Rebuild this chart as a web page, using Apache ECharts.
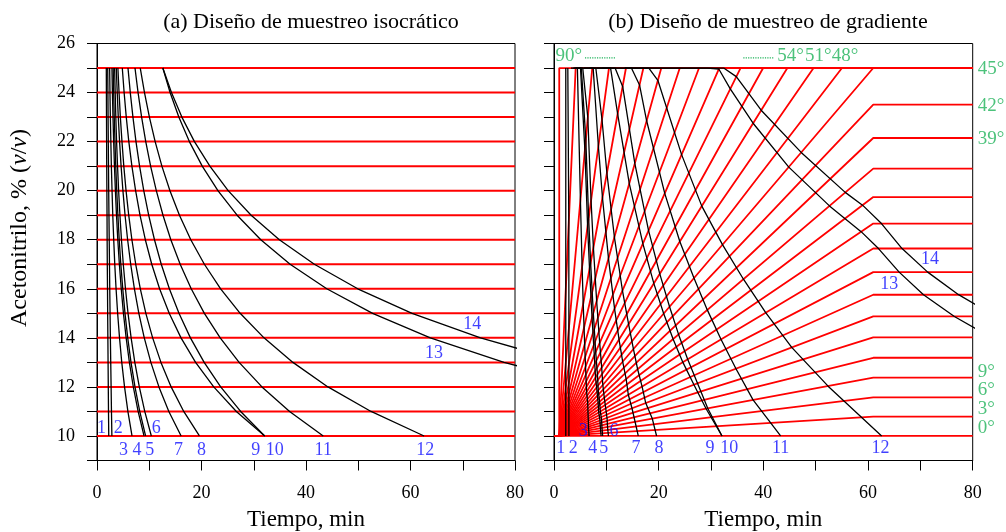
<!DOCTYPE html>
<html><head><meta charset="utf-8">
<script src="https://cdn.jsdelivr.net/npm/echarts@6/dist/echarts.min.js"></script>
<style>html,body{margin:0;padding:0;background:#fff}#c{width:1006px;height:532px}</style>
</head><body><div id="c"></div>
<script>
// ---------- DATA ----------
// acetonitrile levels (%) of the isocratic design
const phiLevels = [10,11,12,13,14,15,16,17,18,19,20,21,22,23,24,25];
// isocratic retention times (min) of each compound at the levels above
const iso1  = [2.25,2.20,2.16,2.12,2.08,2.04,2.01,1.97,1.94,1.92,1.89,1.86,1.84,1.82,1.80,1.78];
const iso2  = [2.85,2.77,2.70,2.63,2.56,2.50,2.44,2.39,2.34,2.29,2.24,2.20,2.16,2.12,2.09,2.05];
const iso3  = [6.70,5.91,5.27,4.74,4.31,3.95,3.65,3.40,3.20,3.02,2.88,2.75,2.65,2.56,2.48,2.42];
const iso4  = [9.00,7.87,6.95,6.20,5.58,5.06,4.64,4.28,3.98,3.73,3.52,3.34,3.19,3.06,2.95,2.86];
const iso5  = [9.30,8.18,7.27,6.51,5.88,5.36,4.93,4.56,4.25,4.00,3.78,3.59,3.44,3.30,3.19,3.10];
const iso6  = [10.40,9.14,8.10,7.24,6.53,5.94,5.45,5.03,4.68,4.39,4.14,3.93,3.75,3.60,3.48,3.37];
const iso7  = [16.10,13.75,11.85,10.31,9.05,8.01,7.16,6.45,5.86,5.37,4.96,4.61,4.32,4.07,3.87,3.69];
const iso8  = [19.60,16.60,14.19,12.24,10.65,9.35,8.29,7.41,6.68,6.07,5.56,5.13,4.78,4.47,4.22,4.00];
const iso9  = [32.1,26.67,22.34,18.87,16.08,13.82,11.98,10.48,9.25,8.23,7.39,6.68,6.09,5.60,5.19,4.84];
const iso10 = [32.1,27.49,23.67,20.51,17.88,15.69,13.85,12.30,11.00,9.89,8.95,8.15,7.46,6.88,6.37,5.93];
const iso11 = [43.3,36.86,31.57,27.2,23.58,20.55,18.03,15.92,14.13,12.63,11.35,10.26,9.33,8.54,7.86,7.27];
const iso12 = [62.6,52.45,44.2,37.5,31.96,27.4,23.66,20.55,17.95,15.78,13.96,12.42,11.13,10.03,9.09,8.28];
const iso13 = [null,null,95.9,77.9,63.8,52.75,43.97,36.96,31.35,26.81,23.14,20.14,17.68,15.66,13.99,12.60];
const iso14 = [null,null,110.97,89.9,73.4,60.3,49.9,41.6,34.9,29.5,25.1,21.6,18.65,16.24,14.25,12.60];

// gradient design: angle label, end of the ramp (time, %)
const gradStartPct = 10;
const gradDwell = 1;
const gradAngle   = [0,3,6,9,12,15,18,21,24,27,30,33,36,39,42,45,48,51,54,57,60,63,66,69,72,75,78,81,84,87,90];
const gradEndTime = [61,61,61,61,61,61,61,61,61,61,61,61,61,61,61,61,55.02,49.59,44.59,39.96,35.64,31.57,27.71,24.03,20.50,17.08,13.75,10.50,7.31,4.14,1.00];
const gradEndPct  = [10,10.786,11.577,12.376,13.188,14.019,14.874,15.758,16.678,17.643,18.660,19.741,20.898,22.147,23.506,25,25,25,25,25,25,25,25,25,25,25,25,25,25,25,25];

// gradient retention curves (time, %) of each compound
const grad1  = [[2.25,10],[2.25,25]];
const grad2  = [[2.85,10],[2.84,16],[2.83,18.7],[2.64,25]];
const grad3  = [[6.7,10],[6.64,10.22],[6.59,10.45],[6.54,10.71],[6.49,11.0],[6.44,11.36],[6.23,11.80],[6.09,12.5],[5.86,13.74],[5.58,15.39],[5.37,16.9],[5.05,19.6],[4.47,25],[3.24,25]];
const grad4  = [[9.0,10],[8.87,10.31],[8.78,10.63],[8.55,10.96],[8.43,11.35],[8.23,11.81],[7.93,12.39],[7.70,13.29],[7.27,14.82],[6.79,16.81],[6.42,18.55],[5.90,21.66],[5.06,25],[3.68,25]];
const grad5  = [[9.3,10],[9.17,10.32],[9.09,10.66],[8.86,11.0],[8.70,11.4],[8.46,11.86],[8.30,12.51],[7.97,13.42],[7.51,15.01],[7.00,17.05],[6.62,18.87],[6.08,22.08],[5.22,25],[3.9,25]];
const grad6  = [[10.4,10],[10.23,10.37],[10.13,10.74],[9.88,11.13],[9.61,11.56],[9.33,12.08],[9.11,12.79],[8.73,13.79],[8.15,15.5],[7.53,17.68],[7.08,19.6],[6.46,22.99],[5.49,25],[4.16,25]];
const grad7  = [[16.1,10],[15.5,10.57],[14.9,11.13],[14.2,11.68],[13.79,12.32],[13.12,13.03],[12.43,13.93],[11.57,15.19],[10.41,17.24],[9.26,19.72],[8.48,21.81],[7.48,25],[6.08,25],[4.54,25]];
const grad8  = [[19.6,10],[18.79,10.70],[17.53,11.34],[16.82,12.02],[15.98,12.72],[15.18,13.54],[14.25,14.56],[13.08,15.93],[11.54,18.11],[10.11,20.71],[9.17,22.9],[7.99,25],[6.45,25],[4.86,25]];
const grad9  = [[32.1,10],[29.06,11.11],[26.74,12.09],[24.61,13.01],[22.75,13.95],[20.95,14.99],[19.07,16.22],[16.98,17.84],[14.38,20.3],[12.16,23.13],[10.81,25],[9.17,25],[7.44,25],[5.73,25]];
const grad10 = [[32.1,10],[29.39,11.12],[27.42,12.15],[25.54,13.13],[23.80,14.14],[22.08,15.27],[20.21,16.61],[18.07,18.37],[15.44,21.11],[13.12,24.25],[11.67,25],[10.04,25],[8.40,25],[6.79,25]];
const grad11 = [[43.3,10],[38.03,11.47],[34.77,12.74],[31.90,13.94],[29.29,15.14],[26.74,16.44],[24.04,17.93],[21.16,19.89],[17.70,22.85],[16.34,24.31],[14.79,25],[13.11,25],[11.44,25],[9.78,25],[8.13,25]];
const grad12 = [[62.6,10],[52.37,12.03],[45.42,13.61],[40.45,15.03],[36.20,16.39],[32.19,17.80],[28.24,19.37],[24.38,21.47],[19.84,24.5],[18.12,25],[16.28,25],[14.47,25],[12.69,25],[10.92,25],[9.17,25]];
const grad13 = [[83.5,14.02],[76.5,14.87],[70.6,15.76],[65.95,16.68],[62.0,17.64],[58.68,18.33],[52.63,19.38],[44.86,20.96],[38.04,22.75],[33.68,24.15],[31.49,24.96],[29.3,25],[25.04,25],[21.06,25],[17.25,25],[13.52,25]];
const grad14 = [[84.4,14.87],[77.3,15.76],[71.4,16.68],[66.5,17.64],[62.57,18.66],[58.95,19.41],[55.65,19.93],[47.23,21.56],[39.58,23.28],[34.83,24.65],[32.42,25],[30.07,25],[25.61,25],[21.43,25],[17.44,25],[13.54,25]];

// compound number labels (text, time, %)
const isoLabelText = ['1','2','6','3','4','5','7','8','9','10','11','12','13','14'];
const isoLabelT    = [0.84,4.08,11.33,5.05,7.66,10.1,15.6,20.0,30.4,34.0,43.3,62.8,64.5,71.8];
const isoLabelP    = [10.3,10.3,10.3,9.4,9.4,9.4,9.4,9.4,9.4,9.4,9.4,9.4,13.38,14.54];
const gradLabelText = ['1','2','3','4','5','6','7','8','9','10','11','12','13','14'];
const gradLabelT    = [1.28,3.69,5.6,7.4,9.5,11.46,15.67,20.06,29.8,33.5,43.3,62.4,64.06,71.84];
const gradLabelP    = [9.51,9.51,10.21,9.51,9.51,10.21,9.51,9.51,9.51,9.51,9.51,9.51,16.2,17.2];
// angle labels on the right side of panel (b)
const angleRightText = ['0°','3°','6°','9°','39°','42°','45°'];
const angleRightP    = [10.31,11.10,11.88,12.62,22.11,23.47,24.95];
// angle labels along the top of panel (b)
const angleTopText = ['90°','54°','51°','48°'];
const angleTopT    = [0.3,42.66,47.95,53.05];
const angleTopP    = 25.47;

// ---------- CHART ----------
const FONT = 'Liberation Serif';
const BLUE = '#1010ff', GREEN = '#1fb35a', RED = '#ff0000';
const chart = echarts.init(document.getElementById('c'), null, {renderer:'canvas'});
const series = [];
function line(ax, data, color, width, z, type) {
  return {type:'line', xAxisIndex:ax, yAxisIndex:ax, data:data, symbol:'none', silent:true,
    lineStyle:{color:color, width:width, type:type||'solid'}, z:z, animation:false};
}
// panel (a)
phiLevels.forEach(p => series.push(line(0, [[0,p],[80,p]], RED, 2, 2)));
[iso1,iso2,iso3,iso4,iso5,iso6,iso7,iso8,iso9,iso10,iso11,iso12,iso13,iso14].forEach(arr => {
  const d = [];
  arr.forEach((t,i) => { if (t != null) d.push([t, phiLevels[i]]); });
  series.push(line(0, d, '#000', 1.3, 3));
});
// panel (b)
gradAngle.forEach((a,i) => {
  series.push(line(1, [[0,gradStartPct],[gradDwell,gradStartPct],[gradEndTime[i],gradEndPct[i]],[80,gradEndPct[i]]], RED, 1.8, 2));
});
[grad1,grad2,grad3,grad4,grad5,grad6,grad7,grad8,grad9,grad10,grad11,grad12,grad13,grad14].forEach(d => {
  series.push(line(1, d, '#000', 1.3, 3));
});
// dotted green marks
const dots = [ [[5.92,25.41],[11.85,25.41]], [[36.17,25.41],[41.9,25.41]], [[82.8,21.54],[82.8,20.45]], [[82.8,14.0],[82.8,12.99]] ];
dots.forEach(d => { const s = line(1, d, GREEN, 1.2, 4, 'dotted'); s.clip = false; series.push(s); });

function labels(ax, texts, ts, ps, color, pos, size, dist) {
  return {type:'scatter', xAxisIndex:ax, yAxisIndex:ax, symbolSize:0, silent:true, clip:false, z:6,
    data: texts.map((tx,i) => ({name:tx, value:[ts[i], Array.isArray(ps)?ps[i]:ps]})),
    label:{show:true, position:pos, distance:dist||0, formatter:p=>p.name, color:color, fontFamily:FONT, fontSize:size}};
}
series.push(labels(0, isoLabelText, isoLabelT, isoLabelP, BLUE, 'inside', 18));
series.push(labels(1, gradLabelText, gradLabelT, gradLabelP, BLUE, 'inside', 18));
series.push(labels(1, angleRightText, angleRightText.map(()=>80), angleRightP, GREEN, 'right', 19, 5));
series.push(labels(1, angleTopText, angleTopT, angleTopP, GREEN, 'right', 19, 0));

function xAx(i) {
  return {gridIndex:i, type:'value', min:0, max:80, interval:10,
    axisLine:{onZero:false, lineStyle:{color:'#000', width:1}},
    axisTick:{inside:false, length:10, lineStyle:{color:'#000', width:1}},
    axisLabel:{margin:24, color:'#000', fontFamily:FONT, fontSize:18, formatter:v => (v%20===0 ? String(v) : '')},
    splitLine:{show:false},
    name:'Tiempo, min', nameLocation:'middle', nameGap:48,
    nameTextStyle:{color:'#000', fontFamily:FONT, fontSize:23}};
}
function yAx(i, showLabels) {
  return {gridIndex:i, type:'value', min:9, max:26, interval:1,
    axisLine:{onZero:false, lineStyle:{color:'#000', width:1}},
    axisTick:{inside:false, length:10, lineStyle:{color:'#000', width:1}},
    axisLabel:{show:showLabels, margin:22, color:'#000', fontFamily:FONT, fontSize:18, formatter:v => (v%2===0 ? String(v) : '')},
    splitLine:{show:false}};
}

chart.setOption({
  animation:false,
  backgroundColor:'#fff',
  title:[
    {text:'(a) Diseño de muestreo isocrático', left:306, top:6, textAlign:'center',
     textStyle:{fontFamily:FONT, fontSize:22, fontWeight:'normal', color:'#000'}},
    {text:'(b) Diseño de muestreo de gradiente', left:763, top:6, textAlign:'center',
     textStyle:{fontFamily:FONT, fontSize:22, fontWeight:'normal', color:'#000'}}
  ],
  grid:[
    {left:97, right:491, top:43.5, bottom:71.5, show:true, borderColor:'#000', borderWidth:1, backgroundColor:'transparent', outerBoundsMode:'none'},
    {left:554, right:33.3, top:43.5, bottom:71.5, show:true, borderColor:'#000', borderWidth:1, backgroundColor:'transparent', outerBoundsMode:'none'}
  ],
  xAxis:[xAx(0), xAx(1)],
  yAxis:[yAx(0,true), yAx(1,false)],
  graphic:[{type:'text', x:20, y:228, rotation:Math.PI/2,
    style:{text:'{a|Acetonitrilo, % (}{i|v}{a|/}{i|v}{a|)}', align:'center', verticalAlign:'middle',
      rich:{a:{fontFamily:FONT, fontSize:24, fill:'#000'}, i:{fontFamily:FONT, fontSize:24, fontStyle:'italic', fill:'#000'}}}}],
  series:series
});
</script></body></html>
